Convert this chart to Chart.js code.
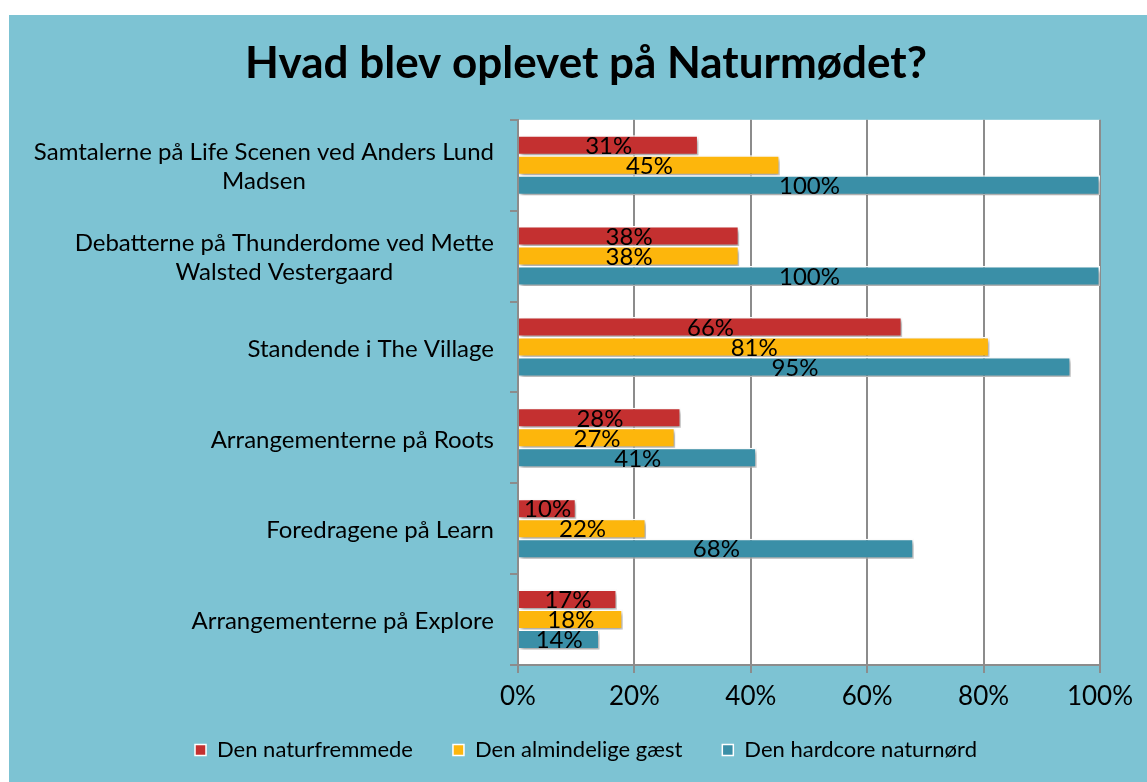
<!DOCTYPE html>
<html>
<head>
<meta charset="utf-8">
<script src="https://cdn.jsdelivr.net/npm/chart.js@4/dist/chart.umd.min.js"></script>
<style>
  html,body{margin:0;padding:0;background:#fff;}
  #wrap{position:absolute;left:9px;top:15px;width:1138px;height:767px;background:#7DC3D3;}
</style>
</head>
<body>
<div id="wrap"><canvas id="chart"></canvas></div>
<script>
// data
const categories = [
  ['Samtalerne på Life Scenen ved Anders Lund', 'Madsen'],
  ['Debatterne på Thunderdome ved Mette', 'Walsted Vestergaard'],
  'Standende i The Village',
  'Arrangementerne på Roots',
  'Foredragene på Learn',
  'Arrangementerne på Explore'
];
const seriesNames = ['Den naturfremmede', 'Den almindelige gæst', 'Den hardcore naturnørd'];
const naturfremmede = [31, 38, 66, 28, 10, 17];
const almindelige = [45, 38, 81, 27, 22, 18];
const hardcore = [100, 100, 95, 41, 68, 14];
const xTicks = [0, 20, 40, 60, 80, 100];

const FONT = 'Lato, "Open Sans", sans-serif';
const GRAY = '#8c8c8c';

// white plot area, bar shadows and value labels
const plotBg = {
  id:'plotBg',
  afterLayout(chart){
    // pull the legend row up a little (its padding also sets the item gaps)
    if(chart.legend){ chart.legend.top -= 11; chart.legend.bottom -= 11; }
  },
  beforeDraw(chart){
    const a = chart.chartArea, ctx = chart.ctx;
    ctx.save(); ctx.fillStyle = '#fff';
    ctx.fillRect(a.left, a.top, a.right-a.left, a.bottom-a.top);
    ctx.restore();
  },
  beforeDatasetsDraw(chart){
    const ctx = chart.ctx;
    ctx.save();
    ctx.shadowColor = 'rgba(0,0,0,0.35)';
    ctx.shadowBlur = 4; ctx.shadowOffsetX = 2; ctx.shadowOffsetY = 3;
  },
  afterDatasetsDraw(chart){
    const ctx = chart.ctx;
    ctx.restore();
    ctx.save();
    ctx.font = '24px ' + FONT;
    ctx.fillStyle = '#000'; ctx.textAlign = 'center'; ctx.textBaseline = 'middle';
    chart.data.datasets.forEach((ds, i)=>{
      chart.getDatasetMeta(i).data.forEach((bar, j)=>{
        ctx.fillText(ds.data[j] + '%', (bar.x + bar.base)/2, bar.y + 1);
      });
    });
    ctx.restore();
  }
};

// category labels: right edge fixed, wrapped lines centred on each other
const catLabels = {
  id:'catLabels',
  afterDraw(chart){
    const ctx = chart.ctx, y = chart.scales.y;
    const right = chart.chartArea.left - 24;
    ctx.save();
    ctx.font = '24px ' + FONT;
    ctx.fillStyle = '#000'; ctx.textAlign = 'center'; ctx.textBaseline = 'middle';
    chart.data.labels.forEach((lab, i)=>{
      const lines = Array.isArray(lab) ? lab : [lab];
      const w = Math.max(...lines.map(l=>ctx.measureText(l).width));
      const cx = right - w/2;
      const cy = y.getPixelForValue(i) + 2;
      const lh = 29;
      lines.forEach((l, k)=> ctx.fillText(l, cx, cy + (k - (lines.length-1)/2)*lh));
    });
    ctx.restore();
  }
};

const mk = (label, data, color) => ({
  label, data, backgroundColor: color, borderColor: '#fff', borderWidth: 1.5,
  categoryPercentage: 0.66, barPercentage: 1.0
});

new Chart(document.getElementById('chart'), {
  type: 'bar',
  data: {
    labels: categories,
    datasets: [
      mk(seriesNames[0], naturfremmede, '#C43030'),
      mk(seriesNames[1], almindelige, '#FDB60C'),
      mk(seriesNames[2], hardcore, '#3A8FA7')
    ]
  },
  options: {
    indexAxis: 'y',
    responsive: true, maintainAspectRatio: false, animation: false,
    layout: { padding: { left: 16, right: 0, top: 0, bottom: 0 } },
    scales: {
      x: {
        min: 0, max: 100,
        afterBuildTicks(s){ s.ticks = xTicks.map(v=>({value:v})); },
        afterFit(s){ s.height = 45; },
        grid: { color: GRAY, lineWidth: 2, tickLength: 8 },
        border: { color: GRAY, width: 2 },
        ticks: { color: '#000', font: { size: 26, family: FONT }, padding: 8, callback: v => v + '%' }
      },
      y: {
        afterFit(s){ s.width = 493; },
        grid: { color: GRAY, lineWidth: 2, tickLength: 8, drawOnChartArea: false, offset: true },
        border: { color: GRAY, width: 2 },
        ticks: { display: false }
      },
      // empty strip on the right so the plot ends where the reference does
      yRight: {
        type: 'category', position: 'right',
        afterFit(s){ s.width = 47; },
        grid: { display: false }, border: { display: false }, ticks: { display: false }
      }
    },
    plugins: {
      title: {
        display: true, text: 'Hvad blev oplevet på Naturmødet?', color: '#000',
        font: { size: 44, weight: 'bold', family: FONT },
        padding: { top: 22, bottom: 30 }
      },
      legend: {
        position: 'bottom',
        labels: { boxWidth: 11, boxHeight: 11, color: '#000', padding: 40, font: { size: 22, family: FONT } }
      },
      tooltip: { enabled: false }
    }
  },
  plugins: [plotBg, catLabels]
});
</script>
</body>
</html>
